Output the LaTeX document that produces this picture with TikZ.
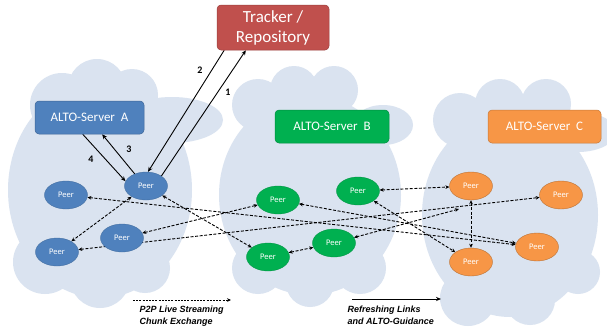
\documentclass[tikz,border=0pt]{standalone}
\usepackage{fontspec}
\setmainfont{Carlito}
\newfontfamily\legfont{Liberation Sans}
\usetikzlibrary{arrows.meta,shapes.geometric,calc}
\definecolor{cloudc}{HTML}{DAE3F0}
\definecolor{cblue}{HTML}{4F81BD}
\definecolor{cgreen}{HTML}{00B050}
\definecolor{corange}{HTML}{F79646}
\definecolor{cred}{HTML}{C0504D}
\pgfdeclarelayer{cloudlayer}
\pgfdeclarelayer{edgelayer}
\pgfsetlayers{cloudlayer,edgelayer,main}
\begin{document}
\begin{tikzpicture}[x=1pt,y=-1pt,
  srv/.style={rectangle, rounded corners=4pt, text=white, inner sep=0pt,
    minimum height=33pt, line width=0.5pt, font=\fontsize{13}{15}\selectfont},
  peer/.style={ellipse, minimum width=43pt, minimum height=28pt, inner sep=0pt,
    text=white, line width=0.4pt, font=\fontsize{8.5}{10}\selectfont},
  chunk/.style={{Stealth[length=4pt,width=3.6pt]}-{Stealth[length=4pt,width=3.6pt]},
    dash pattern=on 3pt off 1.6pt, line width=0.9pt},
  chunkone/.style={-{Stealth[length=4pt,width=3.6pt]},
    dash pattern=on 2pt off 1.2pt, line width=0.8pt},
  guide/.style={-{Stealth[length=5pt,width=4.2pt]}, line width=0.9pt},
  num/.style={font=\fontsize{10}{12}\selectfont\bfseries, inner sep=0pt},
  legend/.style={font=\legfont\fontsize{9}{12}\selectfont\bfseries\itshape,
    align=left, inner sep=0pt, anchor=north west}
]
\useasboundingbox (0,0) rectangle (607,332);

% clouds
\begin{pgfonlayer}{cloudlayer}
\fill[white] (0,0) rectangle (607,332);
\begin{scope}
\clip (0,0) rectangle (607,332);
\fill[cloudc]
  % left cloud
  (100,190) ellipse [x radius=92, y radius=108]
  (62,105) circle [radius=32]
  (97,88) circle [radius=29]
  (132,95) circle [radius=26]
  (172,120) ellipse [x radius=51, y radius=23]
  (45,262) circle [radius=32]
  (100,278) circle [radius=30]
  (145,268) circle [radius=25]
  % middle cloud
  (310,195) ellipse [x radius=91, y radius=100]
  (258,105) circle [radius=26]
  (294,90) circle [radius=24]
  (334,90) circle [radius=24]
  (383,125) ellipse [x radius=30, y radius=20]
  (258,268) circle [radius=26]
  (310,283) circle [radius=24]
  (360,268) circle [radius=26]
  % right cloud
  (510,215) ellipse [x radius=88, y radius=102]
  (460,120) circle [radius=27]
  (500,104) circle [radius=25]
  (546,104) circle [radius=25]
  (578,132) ellipse [x radius=38, y radius=20]
  (468,298) circle [radius=28]
  (530,300) circle [radius=25]
  (578,272) circle [radius=22];
\end{scope}
\end{pgfonlayer}

% servers
\node[srv, fill=cred, draw=cred!80!black, minimum width=112pt, minimum height=45pt,
  align=center, font=\fontsize{17}{20}\selectfont] (T) at (273,27.5) {Tracker /\\Repository};
\node[srv, fill=cblue, draw=cblue!80!black, minimum width=109pt] (AA) at (89.5,117.5) {ALTO-Server~ A};
\node[srv, fill=cgreen, draw=cgreen!80!black, minimum width=114pt] (AB) at (332,126.5) {ALTO-Server~ B};
\node[srv, fill=corange, draw=corange!80!black, minimum width=113pt] (AC) at (544.5,126.5) {ALTO-Server~ C};

% peers
\node[peer, fill=cblue, draw=cblue!85!black] (A1) at (146,186) {Peer};
\node[peer, fill=cblue, draw=cblue!85!black] (A2) at (66,195) {Peer};
\node[peer, fill=cblue, draw=cblue!85!black] (A3) at (122,238) {Peer};
\node[peer, fill=cblue, draw=cblue!85!black] (A4) at (57,252) {Peer};
\node[peer, fill=cgreen, draw=cgreen!85!black] (G1) at (278,200) {Peer};
\node[peer, fill=cgreen, draw=cgreen!85!black] (G2) at (268,257) {Peer};
\node[peer, fill=cgreen, draw=cgreen!85!black] (G3) at (358,191) {Peer};
\node[peer, fill=cgreen, draw=cgreen!85!black] (G4) at (334,243) {Peer};
\node[peer, fill=corange, draw=corange!75!black] (O1) at (471,186) {Peer};
\node[peer, fill=corange, draw=corange!75!black] (O2) at (561,195) {Peer};
\node[peer, fill=corange, draw=corange!75!black] (O3) at (537,247) {Peer};
\node[peer, fill=corange, draw=corange!75!black] (O4) at (471,262) {Peer};

\coordinate (o1in) at (459,209);

% edges
\begin{pgfonlayer}{edgelayer}
\draw[chunk] (A1) -- (A4);
\draw[chunk] (A2) -- (O3);
\draw[chunk] (A1) -- (G2);
\draw[chunk] (A3) -- (G1);
\draw[chunk] (A4) -- (O2);
\draw[chunk] (G1) -- (O3);
\draw[chunk] (G2) -- (G4);
\draw[chunk] (G4) -- (o1in);
\draw[chunk] (G3) -- (O1);
\draw[chunk] (G3) -- (O4);
\draw[chunk] (O1) -- (O4);

\draw[guide] (T.205) -- (A1.82);
\draw[guide] (A1.33) -- (T.220);
\draw[guide] (A1.133) -- (AA.307);
\draw[guide] (AA.248) -- (A1.167);
\end{pgfonlayer}

\node[num] (n2) at (200,70) {2};
\node[num] (n1) at (228,92) {1};
\node[num] (n3) at (129,149) {3};
\node[num] (n4) at (91,159) {4};

% legend
\coordinate (l1a) at (133,300);
\coordinate (l1b) at (231,300);
\draw[chunkone] (l1a) -- (l1b);
\node[legend] (t1) at (139.5,305.5) {P2P Live Streaming\\Chunk Exchange};
\coordinate (l2a) at (352,299);
\coordinate (l2b) at (441,299);
\draw[guide] (l2a) -- (l2b);
\node[legend] (t2) at (347.5,305.5) {Refreshing Links\\and ALTO-Guidance};
\end{tikzpicture}
\end{document}
